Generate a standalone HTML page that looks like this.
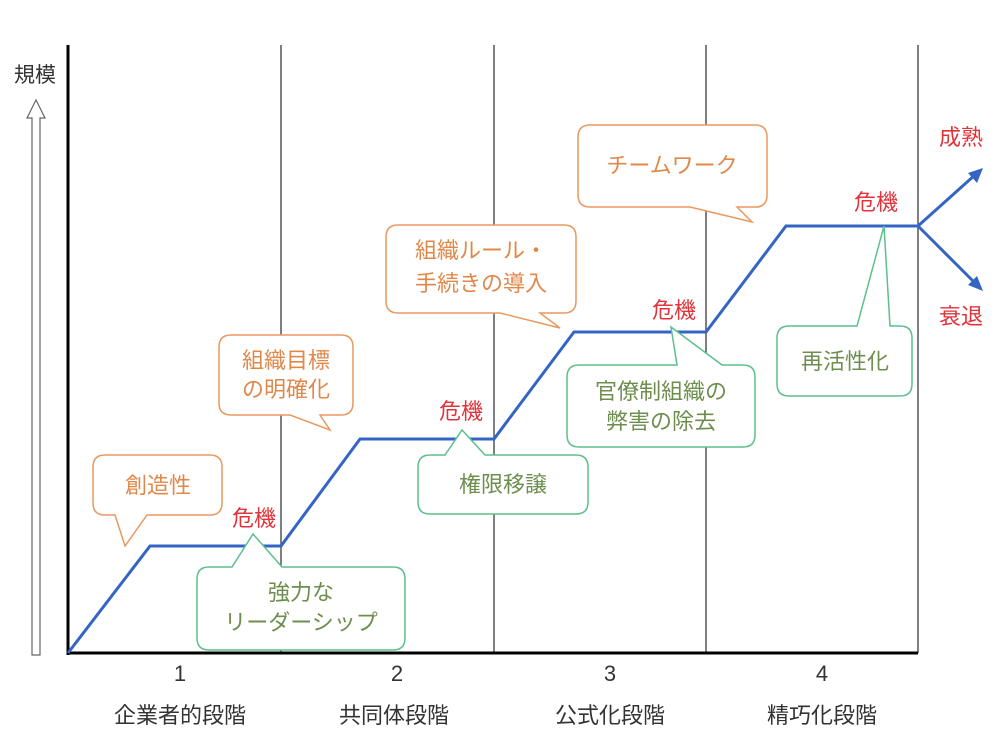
<!DOCTYPE html>
<html><head><meta charset="utf-8"><style>
html,body{margin:0;padding:0;background:#fff}
svg{display:block;font-family:"Liberation Sans","Noto Sans CJK JP",sans-serif}
</style></head><body>
<svg width="1000" height="750" viewBox="0 0 1000 750">
<g stroke="#555" stroke-width="1.5">
<line x1="281" y1="45" x2="281" y2="653"/>
<line x1="494" y1="45" x2="494" y2="653"/>
<line x1="706" y1="45" x2="706" y2="653"/>
<line x1="918" y1="45" x2="918" y2="653"/>
</g>
<line x1="68" y1="45" x2="68" y2="655" stroke="#000" stroke-width="3"/>
<line x1="67" y1="653" x2="918" y2="653" stroke="#000" stroke-width="3"/>
<path d="M32 655 L32 118 L27 118 L36 100 L45 118 L40 118 L40 655 Z" fill="#fff" stroke="#666" stroke-width="1.2"/>
<text x="35" y="82" font-size="21" fill="#333" text-anchor="middle">規模</text>
<polyline points="68,653 150,546 281,546 360,439 494,439 574,332 706,332 786,226 918,226" fill="none" stroke="#3465C4" stroke-width="3"/>
<g stroke="#3465C4" stroke-width="3" fill="#3465C4">
<line x1="918" y1="226" x2="976" y2="174"/>
<line x1="918" y1="226" x2="976" y2="284"/>
<polygon points="983,168 968,173 977,183" stroke="none"/>
<polygon points="983,291 977,276 968,285" stroke="none"/>
</g>
<g fill="#fff" stroke="#E8995F" stroke-width="1.5">
<path d="M105 455 H210 Q222 455 222 467 V503 Q222 515 210 515 H147 L125 546 L115 515 H105 Q93 515 93 503 V467 Q93 455 105 455 Z"/>
<path d="M231 335 H341 Q353 335 353 347 V403 Q353 415 341 415 H320 L330 430 L290 415 H231 Q219 415 219 403 V347 Q219 335 231 335 Z"/>
<path d="M398 225 H564 Q576 225 576 237 V301 Q576 313 564 313 H540 L560 328 L500 313 H398 Q386 313 386 301 V237 Q386 225 398 225 Z"/>
<path d="M590 125 H755 Q767 125 767 137 V195 Q767 207 755 207 H737 L752 222 L690 207 H590 Q578 207 578 195 V137 Q578 125 590 125 Z"/>
</g>
<g fill="#fff" stroke="#5DBF8C" stroke-width="1.5">
<path d="M209 567 H232 L253 534 L282 567 H393 Q405 567 405 579 V638 Q405 650 393 650 H209 Q197 650 197 638 V579 Q197 567 209 567 Z"/>
<path d="M430 455 H445 L462 430 L485 455 H576 Q588 455 588 467 V502 Q588 514 576 514 H430 Q418 514 418 502 V467 Q418 455 430 455 Z"/>
<path d="M579 365 H677 L671 327 L722 365 H743 Q755 365 755 377 V435 Q755 447 743 447 H579 Q567 447 567 435 V377 Q567 365 579 365 Z"/>
<path d="M789 326 H857 L884 226 L890 326 H900 Q912 326 912 338 V384 Q912 396 900 396 H789 Q777 396 777 384 V338 Q777 326 789 326 Z"/>
</g>
<g font-size="22" fill="#E0884A" text-anchor="middle">
<text x="158" y="493">創造性</text>
<text x="286" y="368">組織目標</text>
<text x="286" y="397">の明確化</text>
<text x="481" y="258">組織ルール・</text>
<text x="481" y="291">手続きの導入</text>
<text x="672" y="173">チームワーク</text>
</g>
<g font-size="22" fill="#6E8E4E" text-anchor="middle">
<text x="301" y="600">強力な</text>
<text x="301" y="630">リーダーシップ</text>
<text x="503" y="492">権限移譲</text>
<text x="661" y="399">官僚制組織の</text>
<text x="661" y="429">弊害の除去</text>
<text x="845" y="369">再活性化</text>
</g>
<g font-size="22" fill="#E0333A" text-anchor="middle">
<text x="254" y="526">危機</text>
<text x="461" y="419">危機</text>
<text x="674" y="318">危機</text>
<text x="876" y="210">危機</text>
<text x="961" y="145">成熟</text>
<text x="961" y="324">衰退</text>
</g>
<g font-size="22" fill="#333" text-anchor="middle">
<text x="180" y="681">1</text>
<text x="397" y="681">2</text>
<text x="610" y="681">3</text>
<text x="822" y="681">4</text>
<text x="180" y="723">企業者的段階</text>
<text x="394" y="723">共同体段階</text>
<text x="610" y="723">公式化段階</text>
<text x="822" y="723">精巧化段階</text>
</g>
</svg>
</body></html>
